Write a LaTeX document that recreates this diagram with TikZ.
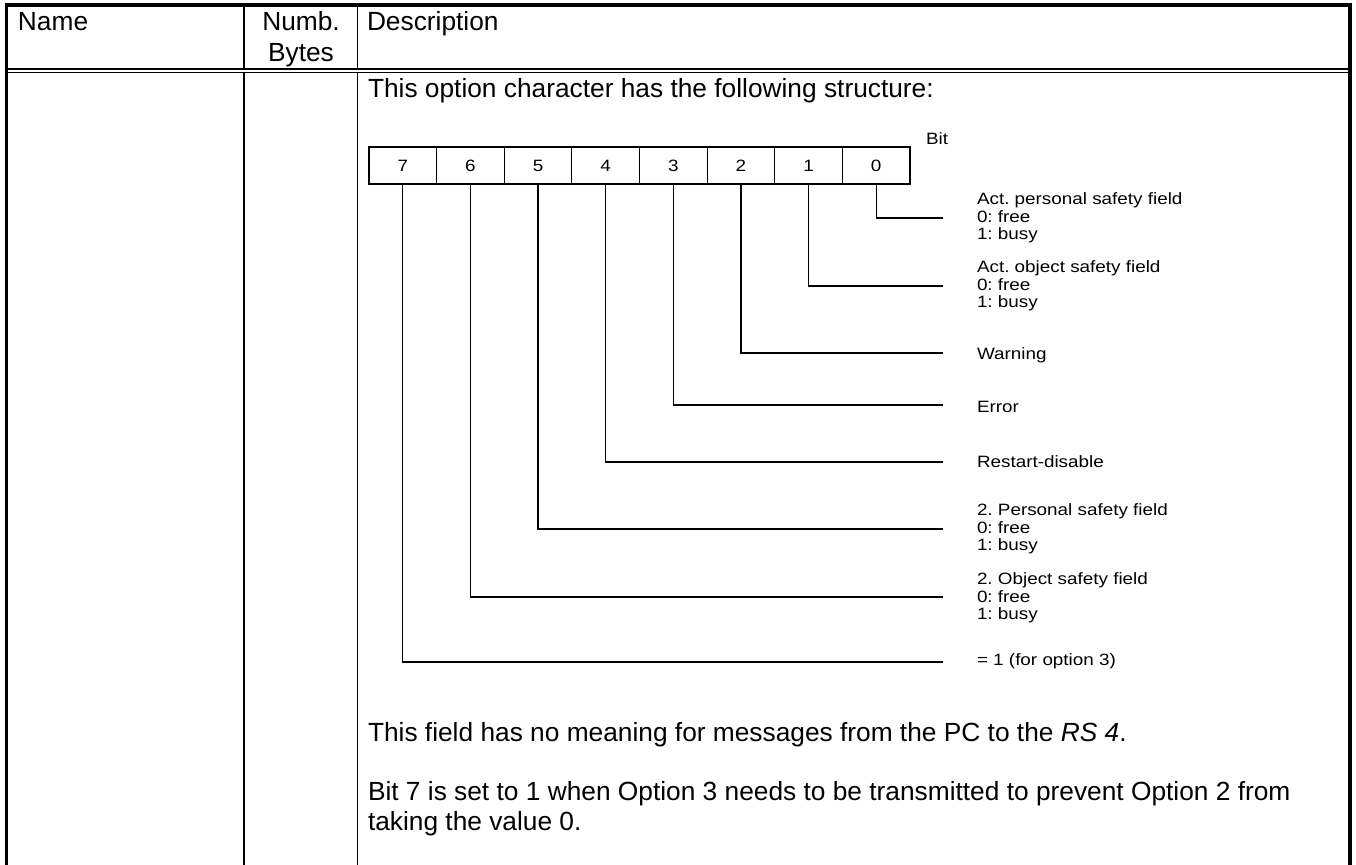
\documentclass[tikz,border=0pt]{standalone}
\usepackage{fontspec}
\setmainfont{Liberation Sans}
\newfontfamily\smallface[FakeStretch=1.15]{Liberation Sans}
\frenchspacing
\newcommand{\mainfnt}{\fontsize{13.15}{15}\selectfont}
\newcommand{\smallfnt}{\smallface\fontsize{8.2}{8.85}\selectfont\lineskiplimit=-20pt\relax}
\begin{document}
\begin{tikzpicture}[x=0.5pt,y=-0.5pt,
  border/.style={line width=1.65pt,line join=miter},
  thinrule/.style={line width=0.65pt},
  conn/.style={line width=0.65pt},
  maintext/.style={font=\mainfnt,inner sep=0pt,outer sep=0pt},
  lbl/.style={font=\smallfnt,align=left,inner sep=0pt,outer sep=0pt},
  bitbox/.style={draw,line width=0.6pt,minimum width=33.81pt,minimum height=18.5pt,
    inner sep=0pt,outer sep=0pt,font=\smallfnt,text height=6pt,text depth=0pt}]
\useasboundingbox (0,0) rectangle (1356,865);
% table frame
\draw[border] (6.5,865) -- (6.5,5) -- (1350,5) -- (1350,865);
\draw[line width=1.25pt] (6.5,69) -- (1350,69);
\draw[line width=0.6pt] (6.5,72.5) -- (1350,72.5);
\draw[thinrule] (244,5) -- (244,68.5);
\draw[thinrule] (244,73) -- (244,865);
\draw[thinrule] (357.7,5) -- (357.7,68.5);
\draw[thinrule] (357.7,73) -- (357.7,865);
% header
\node[maintext,anchor=base west] (hname) at (18,31) {Name};
\node[maintext,anchor=base] (hnumb) at (301,31) {Numb.};
\node[maintext,anchor=base] (hbytes) at (301,62) {Bytes};
\node[maintext,anchor=base west] (hdesc) at (367,31) {Description};
% body
\node[maintext,anchor=base west] (intro) at (368,98) {This option character has the following structure:};
\foreach \i/\d in {0/7,1/6,2/5,3/4,4/3,5/2,6/1,7/0}{
  \node[bitbox] (b\d) at ({369+67.625*(\i+0.5)},165.5) {\d};
}
\node[lbl,anchor=base west] (bitlbl) at (926,145) {Bit};
% labels
\node[lbl,anchor=west] (l0) at (977,218) {Act. personal safety field\\0: free\\1: busy};
\node[lbl,anchor=west] (l1) at (977,286) {Act. object safety field\\0: free\\1: busy};
\node[lbl,anchor=west] (l2) at (977,355) {Warning};
\node[lbl,anchor=west] (l3) at (977,407) {Error};
\node[lbl,anchor=west] (l4) at (977,462) {Restart-disable};
\node[lbl,anchor=west] (l5) at (977,529) {2. Personal safety field\\0: free\\1: busy};
\node[lbl,anchor=west] (l6) at (977,598) {2. Object safety field\\0: free\\1: busy};
\node[lbl,anchor=west] (l7) at (977,661) {= 1 (for option 3)};
% connector ends
\coordinate (e0) at (943,218);
\coordinate (e1) at (943,286);
\coordinate (e2) at (943,353);
\coordinate (e3) at (943,405);
\coordinate (e4) at (943,462);
\coordinate (e5) at (943,529);
\coordinate (e6) at (943,597);
\coordinate (e7) at (943,662);
\foreach \d in {0,...,7}{
  \draw[conn] (b\d.south) |- (e\d);
}
% notes
\node[maintext,anchor=base west] (note1) at (368,742) {This field has no meaning for messages from the PC to the \textit{RS 4}.};
\node[maintext,anchor=base west] (note2) at (368,801) {Bit 7 is set to 1 when Option 3 needs to be transmitted to prevent Option 2 from};
\node[maintext,anchor=base west] (note3) at (368,831) {taking the value 0.};
\end{tikzpicture}
\end{document}
